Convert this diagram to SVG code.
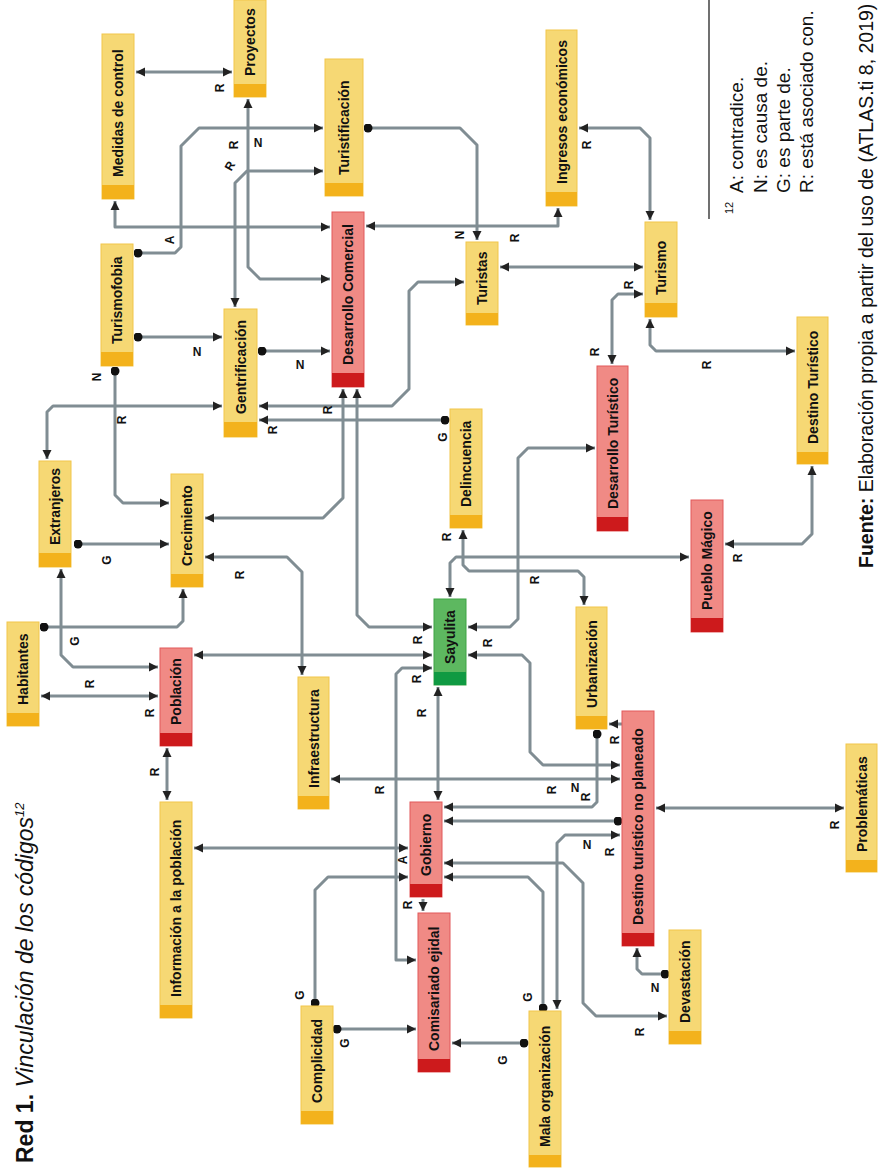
<svg xmlns="http://www.w3.org/2000/svg" width="878" height="1169" viewBox="0 0 878 1169">
<style>
.c{fill:none;stroke:#808d93;stroke-width:3;stroke-linejoin:round}
.b{marker-start:url(#ar);marker-end:url(#ar)}
.e{marker-end:url(#ar)}
.d{marker-start:url(#dt)}
.y rect.m{fill:#f6d874;stroke:#f1c64a;stroke-width:1}
.y rect.s{fill:#f3b21c}
.r rect.m{fill:#f08a85;stroke:#e1585a;stroke-width:1}
.r rect.s{fill:#cd1a1c}
.g rect.m{fill:#5db860;stroke:#3ea444;stroke-width:1}
.g rect.s{fill:#109a42}
.t{font-family:"Liberation Sans",Arial,sans-serif;font-weight:bold;font-size:14px;fill:#111;dominant-baseline:central}
.l{font-family:"Liberation Sans",Arial,sans-serif;font-weight:bold;font-size:12px;fill:#111;text-anchor:middle;dominant-baseline:central}
.f{font-family:"Liberation Sans",Arial,sans-serif;fill:#111}
</style>
<defs>
<marker id="ar" viewBox="0 0 10 10" refX="10" refY="5" markerWidth="9" markerHeight="11" markerUnits="userSpaceOnUse" orient="auto-start-reverse"><path d="M0,0 L10,5 L0,10 z" fill="#222"/></marker>
<marker id="dt" viewBox="0 0 10 10" refX="5" refY="5" markerWidth="9" markerHeight="9" markerUnits="userSpaceOnUse"><circle cx="5" cy="5" r="5" fill="#111"/></marker>
</defs>
<g id="connectors">
<path class="c b" d="M136,72 H232"/>
<path class="c b" d="M115,201 V227 H330"/>
<path class="c b" d="M366,226 H558 V208"/>
<path class="c d e" d="M138,253 H175 L181,247 V146 L199,128 H323"/>
<path class="c d e" d="M368,128 H460 L477,145 V240"/>
<path class="c b" d="M248,99 V267 L260,279 H330"/>
<path class="c b" d="M235,307 V183 L247,171 H323"/>
<path class="c d e" d="M138,337 H222"/>
<path class="c d e" d="M262,351 H330"/>
<path class="c d e" d="M115,371 V495 L123,503 H169"/>
<path class="c b" d="M222,406 H53 L47,412 V459"/>
<path class="c b" d="M464,282 H418 L409,291 V389 L392,406 H259"/>
<path class="c d e" d="M445,420 H259"/>
<path class="c b" d="M343,389 V498 L323,518 H205"/>
<path class="c b" d="M357,389 V615 L369,627 H432"/>
<path class="c d e" d="M78,544 H169"/>
<path class="c b" d="M205,557 H287 L302,572 V675"/>
<path class="c d e" d="M44,627 H177 L183,621 V589"/>
<path class="c b" d="M61,569 V655 L73,667 H158"/>
<path class="c b" d="M41,696 H158"/>
<path class="c b" d="M194,655 H432"/>
<path class="c b" d="M167,748 V800"/>
<path class="c b" d="M432,668 H402 L396,674 V960 H416"/>
<path class="c b" d="M438,687 V800"/>
<path class="c b" d="M463,530 V565 L469,571 H578 L584,577 V605"/>
<path class="c b" d="M450,597 V563 L456,557 H689"/>
<path class="c b" d="M468,627 H510 L518,619 V458 L528,448 H595"/>
<path class="c b" d="M468,655 H522 L530,663 V752 L543,765 H620"/>
<path class="c e" d="M622,724 H609"/>
<path class="c d e" d="M597,734 V802 L592,807 H444"/>
<path class="c d e" d="M618,821 H444"/>
<path class="c b" d="M331,779 H620"/>
<path class="c b" d="M656,808 H844"/>
<path class="c b" d="M620,835 H565 L557,843 V1009"/>
<path class="c b" d="M444,863 H563 L583,883 V1003 L596,1016 H667"/>
<path class="c d e" d="M543,1008 V892 L528,877 H444"/>
<path class="c b" d="M194,848 H408"/>
<path class="c d e" d="M315,1003 V890 L328,877 H408"/>
<path class="c e" d="M423,899 V911"/>
<path class="c d e" d="M337,1029 H416"/>
<path class="c d e" d="M524,1043 H452"/>
<path class="c d e" d="M665,974 H642 L637,969 V948"/>
<path class="c b" d="M579,128 H640 L650,138 V220"/>
<path class="c b" d="M500,267 H643"/>
<path class="c b" d="M643,294 H618 L612,300 V364"/>
<path class="c b" d="M650,319 V345 L656,351 H795"/>
<path class="c b" d="M725,544 H802 L812,534 V466"/>
</g>
<g id="labels">
<text class="l" transform="translate(220,88) rotate(-90)">R</text>
<text class="l" transform="translate(170,240) rotate(-90)">A</text>
<text class="l" transform="translate(234,145) rotate(-90)">R</text>
<text class="l" transform="translate(258,143)">N</text>
<text class="l" transform="translate(230,166) rotate(-60)">R</text>
<text class="l" transform="translate(460,235) rotate(-90)">N</text>
<text class="l" transform="translate(515,238) rotate(-90)">R</text>
<text class="l" transform="translate(587,145) rotate(-90)">R</text>
<text class="l" transform="translate(629,285) rotate(-90)">R</text>
<text class="l" transform="translate(595,352) rotate(-90)">R</text>
<text class="l" transform="translate(707,365) rotate(-90)">R</text>
<text class="l" transform="translate(197,352)">N</text>
<text class="l" transform="translate(300,365)">N</text>
<text class="l" transform="translate(97,377) rotate(-90)">N</text>
<text class="l" transform="translate(122,420) rotate(-90)">R</text>
<text class="l" transform="translate(273,430) rotate(-90)">R</text>
<text class="l" transform="translate(328,410) rotate(-90)">R</text>
<text class="l" transform="translate(443,437) rotate(-90)">G</text>
<text class="l" transform="translate(107,560) rotate(-90)">G</text>
<text class="l" transform="translate(240,575) rotate(-90)">R</text>
<text class="l" transform="translate(447,537) rotate(-90)">R</text>
<text class="l" transform="translate(535,580) rotate(-90)">R</text>
<text class="l" transform="translate(738,558) rotate(-90)">R</text>
<text class="l" transform="translate(75,641) rotate(-90)">G</text>
<text class="l" transform="translate(90,684) rotate(-90)">R</text>
<text class="l" transform="translate(150,713) rotate(-90)">R</text>
<text class="l" transform="translate(418,640) rotate(-90)">R</text>
<text class="l" transform="translate(417,679) rotate(-90)">R</text>
<text class="l" transform="translate(488,643) rotate(-90)">R</text>
<text class="l" transform="translate(155,772) rotate(-90)">R</text>
<text class="l" transform="translate(422,713) rotate(-90)">R</text>
<text class="l" transform="translate(380,790) rotate(-90)">R</text>
<text class="l" transform="translate(552,790) rotate(-90)">R</text>
<text class="l" transform="translate(575,788)">N</text>
<text class="l" transform="translate(586,797) rotate(-90)">R</text>
<text class="l" transform="translate(615,740) rotate(-90)">R</text>
<text class="l" transform="translate(587,845)">N</text>
<text class="l" transform="translate(610,852) rotate(-90)">R</text>
<text class="l" transform="translate(835,825) rotate(-90)">R</text>
<text class="l" transform="translate(403,860) rotate(-90)">A</text>
<text class="l" transform="translate(408,905) rotate(-90)">R</text>
<text class="l" transform="translate(300,995) rotate(-90)">G</text>
<text class="l" transform="translate(345,1043) rotate(-90)">G</text>
<text class="l" transform="translate(528,997) rotate(-90)">G</text>
<text class="l" transform="translate(503,1060) rotate(-90)">G</text>
<text class="l" transform="translate(655,988)">N</text>
<text class="l" transform="translate(640,1032) rotate(-90)">R</text>
</g>
<g id="n-medidas" class="y"><rect class="m" x="102" y="34" width="32" height="165"/><rect class="s" x="102" y="185" width="32" height="14"/><text class="t" transform="translate(118,177) rotate(-90)">Medidas de control</text></g>
<g id="n-proyectos" class="y"><rect class="m" x="234" y="0" width="32" height="97"/><rect class="s" x="234" y="84" width="32" height="13"/><text class="t" transform="translate(250,76) rotate(-90)">Proyectos</text></g>
<g id="n-turistificacion" class="y"><rect class="m" x="325" y="59" width="38" height="137"/><rect class="s" x="325" y="183" width="38" height="13"/><text class="t" transform="translate(344,175) rotate(-90)">Turistificación</text></g>
<g id="n-ingresos" class="y"><rect class="m" x="546" y="30" width="31" height="176"/><rect class="s" x="546" y="192" width="31" height="14"/><text class="t" transform="translate(561.5,184) rotate(-90)">Ingresos económicos</text></g>
<g id="n-descomercial" class="r"><rect class="m" x="332" y="212" width="32" height="175"/><rect class="s" x="332" y="373" width="32" height="14"/><text class="t" transform="translate(348,365) rotate(-90)">Desarrollo Comercial</text></g>
<g id="n-turistas" class="y"><rect class="m" x="466" y="242" width="32" height="83"/><rect class="s" x="466" y="313" width="32" height="12"/><text class="t" transform="translate(482,305) rotate(-90)">Turistas</text></g>
<g id="n-turismo" class="y"><rect class="m" x="645" y="222" width="32" height="95"/><rect class="s" x="645" y="303" width="32" height="14"/><text class="t" transform="translate(661,295) rotate(-90)">Turismo</text></g>
<g id="n-turismofobia" class="y"><rect class="m" x="101" y="244" width="32" height="122"/><rect class="s" x="101" y="352" width="32" height="14"/><text class="t" transform="translate(117,344) rotate(-90)">Turismofobia</text></g>
<g id="n-gentrificacion" class="y"><rect class="m" x="224" y="309" width="33" height="128"/><rect class="s" x="224" y="422" width="33" height="15"/><text class="t" transform="translate(240.5,414) rotate(-90)">Gentrificación</text></g>
<g id="n-desturistico" class="r"><rect class="m" x="597" y="366" width="31" height="165"/><rect class="s" x="597" y="517" width="31" height="14"/><text class="t" transform="translate(612.5,509) rotate(-90)">Desarrollo Turístico</text></g>
<g id="n-destinoturistico" class="y"><rect class="m" x="797" y="317" width="31" height="147"/><rect class="s" x="797" y="452" width="31" height="12"/><text class="t" transform="translate(812.5,444) rotate(-90)">Destino Turístico</text></g>
<g id="n-delincuencia" class="y"><rect class="m" x="450" y="409" width="32" height="119"/><rect class="s" x="450" y="515" width="32" height="13"/><text class="t" transform="translate(466,507) rotate(-90)">Delincuencia</text></g>
<g id="n-extranjeros" class="y"><rect class="m" x="39" y="461" width="32" height="106"/><rect class="s" x="39" y="553" width="32" height="14"/><text class="t" transform="translate(55,545) rotate(-90)">Extranjeros</text></g>
<g id="n-crecimiento" class="y"><rect class="m" x="171" y="474" width="32" height="113"/><rect class="s" x="171" y="574" width="32" height="13"/><text class="t" transform="translate(187,566) rotate(-90)">Crecimiento</text></g>
<g id="n-pueblomagico" class="r"><rect class="m" x="691" y="500" width="32" height="132"/><rect class="s" x="691" y="618" width="32" height="14"/><text class="t" transform="translate(707,610) rotate(-90)">Pueblo Mágico</text></g>
<g id="n-sayulita" class="g"><rect class="m" x="434" y="599" width="32" height="86"/><rect class="s" x="434" y="672" width="32" height="13"/><text class="t" transform="translate(450,664) rotate(-90)">Sayulita</text></g>
<g id="n-urbanizacion" class="y"><rect class="m" x="576" y="607" width="31" height="122"/><rect class="s" x="576" y="716" width="31" height="13"/><text class="t" transform="translate(591.5,708) rotate(-90)">Urbanización</text></g>
<g id="n-habitantes" class="y"><rect class="m" x="7" y="622" width="32" height="104"/><rect class="s" x="7" y="713" width="32" height="13"/><text class="t" transform="translate(23,705) rotate(-90)">Habitantes</text></g>
<g id="n-poblacion" class="r"><rect class="m" x="160" y="648" width="32" height="98"/><rect class="s" x="160" y="733" width="32" height="13"/><text class="t" transform="translate(176,725) rotate(-90)">Población</text></g>
<g id="n-infraestructura" class="y"><rect class="m" x="298" y="677" width="31" height="132"/><rect class="s" x="298" y="796" width="31" height="13"/><text class="t" transform="translate(313.5,788) rotate(-90)">Infraestructura</text></g>
<g id="n-destinonoplaneado" class="r"><rect class="m" x="622" y="711" width="32" height="235"/><rect class="s" x="622" y="933" width="32" height="13"/><text class="t" transform="translate(638,925) rotate(-90)">Destino turístico no planeado</text></g>
<g id="n-problematicas" class="y"><rect class="m" x="846" y="744" width="31" height="128"/><rect class="s" x="846" y="860" width="31" height="12"/><text class="t" transform="translate(861.5,852) rotate(-90)">Problemáticas</text></g>
<g id="n-informacion" class="y"><rect class="m" x="160" y="802" width="32" height="216"/><rect class="s" x="160" y="1005" width="32" height="13"/><text class="t" transform="translate(176,997) rotate(-90)">Información a la población</text></g>
<g id="n-gobierno" class="r"><rect class="m" x="410" y="802" width="32" height="95"/><rect class="s" x="410" y="884" width="32" height="13"/><text class="t" transform="translate(426,876) rotate(-90)">Gobierno</text></g>
<g id="n-comisariado" class="r"><rect class="m" x="418" y="913" width="32" height="159"/><rect class="s" x="418" y="1059" width="32" height="13"/><text class="t" transform="translate(434,1051) rotate(-90)">Comisariado ejidal</text></g>
<g id="n-complicidad" class="y"><rect class="m" x="301" y="1006" width="32" height="118"/><rect class="s" x="301" y="1111" width="32" height="13"/><text class="t" transform="translate(317,1103) rotate(-90)">Complicidad</text></g>
<g id="n-malaorganizacion" class="y"><rect class="m" x="529" y="1011" width="32" height="156"/><rect class="s" x="529" y="1155" width="32" height="12"/><text class="t" transform="translate(545,1147) rotate(-90)">Mala organización</text></g>
<g id="n-devastacion" class="y"><rect class="m" x="669" y="930" width="32" height="114"/><rect class="s" x="669" y="1031" width="32" height="13"/><text class="t" transform="translate(685,1023) rotate(-90)">Devastación</text></g>
<g id="title">
<text class="f" font-size="23" transform="translate(33,1163) rotate(-90)"><tspan font-weight="bold">Red 1.</tspan><tspan font-style="italic"> Vinculación de los códigos</tspan><tspan font-style="italic" font-size="13" dy="-9">12</tspan></text>
</g>
<g id="footnote">
<line x1="709" y1="0" x2="709" y2="219" stroke="#111" stroke-width="1.2"/>
<text class="f" font-size="11" transform="translate(733,214) rotate(-90)">12</text>
<text class="f" font-size="19" transform="translate(743,193) rotate(-90)">A: contradice.</text>
<text class="f" font-size="19" transform="translate(767,193) rotate(-90)">N: es causa de.</text>
<text class="f" font-size="19" transform="translate(790,193) rotate(-90)">G: es parte de.</text>
<text class="f" font-size="19" transform="translate(813,193) rotate(-90)">R: está asociado con.</text>
<text class="f" font-size="19.5" transform="translate(873,568) rotate(-90)"><tspan font-weight="bold">Fuente:</tspan> Elaboración propia a partir del uso de (ATLAS.ti 8, 2019)</text>
</g>
</svg>
